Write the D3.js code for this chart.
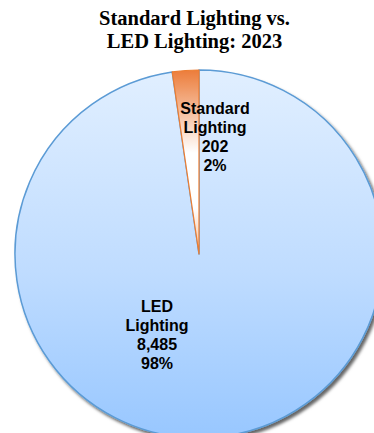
<!DOCTYPE html>
<html>
<head>
<meta charset="utf-8">
<script src="https://cdn.jsdelivr.net/npm/d3@7/dist/d3.min.js"></script>
<style>
  html, body { margin: 0; padding: 0; background: #fff; }
  svg { display: block; }
</style>
</head>
<body>
<svg id="chart" width="374" height="433"></svg>
<script>
// Lighting counts for 2023
const categories = ["LED Lighting", "Standard Lighting"];
const values = [8485, 202];
const titleLines = ["Standard Lighting vs.", "LED Lighting: 2023"];

const width = 374, height = 433;
const cx = 199, cy = 254, radius = 184;

const svg = d3.select("#chart");
const defs = svg.append("defs");

// Soft drop shadow under the pie
const shadow = defs.append("filter").attr("id", "pieShadow")
  .attr("x", "-10%").attr("y", "-10%").attr("width", "130%").attr("height", "130%");
shadow.append("feDropShadow")
  .attr("dx", 2.5).attr("dy", 3).attr("stdDeviation", 1.8)
  .attr("flood-color", "#000").attr("flood-opacity", 0.6);

// Gradients are expressed in the pie group's local space (origin at the centre)
const gBlue = defs.append("linearGradient").attr("id", "gradBlue")
  .attr("gradientUnits", "userSpaceOnUse")
  .attr("x1", 0).attr("y1", -radius).attr("x2", 0).attr("y2", radius);
gBlue.append("stop").attr("offset", "0%").attr("stop-color", "#e1efff");
gBlue.append("stop").attr("offset", "55%").attr("stop-color", "#bfdcff");
gBlue.append("stop").attr("offset", "100%").attr("stop-color", "#98c7ff");

const gOrange = defs.append("linearGradient").attr("id", "gradOrange")
  .attr("gradientUnits", "userSpaceOnUse")
  .attr("x1", 0).attr("y1", -radius).attr("x2", 0).attr("y2", 0);
gOrange.append("stop").attr("offset", "0%").attr("stop-color", "#ec7c3a");
gOrange.append("stop").attr("offset", "45%").attr("stop-color", "#ffffff");
gOrange.append("stop").attr("offset", "75%").attr("stop-color", "#ffffff");
gOrange.append("stop").attr("offset", "100%").attr("stop-color", "#f6b98f");

const fills = ["url(#gradBlue)", "url(#gradOrange)"];
const strokes = ["#5b9bd5", "#ed7d31"];

const pie = d3.pie().sort(null).value(d => d);
const arcs = pie(values);
const arc = d3.arc().innerRadius(0).outerRadius(radius);

const g = svg.append("g").attr("transform", `translate(${cx},${cy})`);

g.append("g").attr("filter", "url(#pieShadow)")
  .selectAll("path")
  .data(arcs)
  .join("path")
  .attr("d", arc)
  .attr("fill", (d, i) => fills[i])
  .attr("stroke", (d, i) => strokes[i])
  .attr("stroke-width", (d, i) => i === 0 ? 1.5 : 1.2)
  .attr("stroke-linejoin", "round");

// Data labels: name, value, percentage
const total = d3.sum(values);
const fmt = d3.format(",");
const labelPos = [
  { x: 157 - cx, y: 312 - cy },
  { x: 215 - cx, y: 114 - cy }
];
const lineGap = 19;

arcs.forEach((d, i) => {
  const words = categories[i].split(" ");
  const lines = [...words, fmt(values[i]), Math.round(values[i] / total * 100) + "%"];
  const t = g.append("text")
    .attr("text-anchor", "middle")
    .attr("font-family", "Liberation Sans, Arial, sans-serif")
    .attr("font-weight", "bold")
    .attr("font-size", 16)
    .attr("fill", "#000");
  lines.forEach((ln, k) => {
    t.append("tspan")
      .attr("x", labelPos[i].x)
      .attr("y", labelPos[i].y + k * lineGap)
      .text(ln);
  });
});

// Title
const title = svg.append("text")
  .attr("text-anchor", "middle")
  .attr("font-family", "Liberation Serif, 'Times New Roman', serif")
  .attr("font-weight", "bold")
  .attr("font-size", 20.5)
  .attr("fill", "#000");
titleLines.forEach((ln, k) => {
  title.append("tspan").attr("x", 194.5).attr("y", 25 + k * 23).text(ln);
});
</script>
</body>
</html>
